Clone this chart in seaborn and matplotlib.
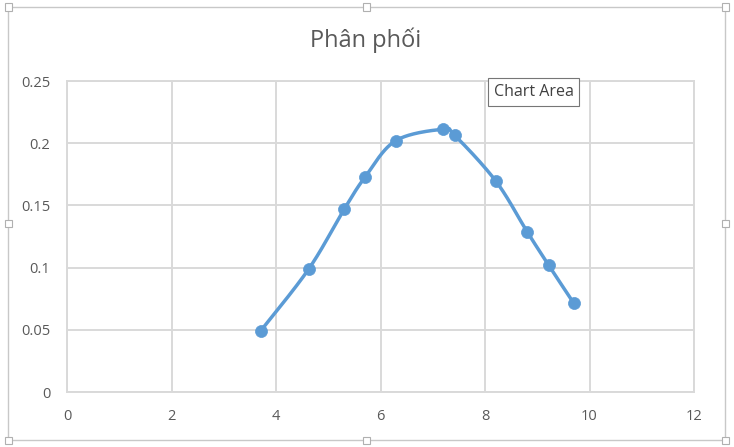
import numpy as np
import pandas as pd
import matplotlib
matplotlib.use("Agg")
import matplotlib.pyplot as plt
from matplotlib.patches import Rectangle
import seaborn as sns

# ---- data ----
x_vals = [3.71, 4.63, 5.31, 5.71, 6.29, 7.20, 7.42, 8.21, 8.81, 9.22, 9.70]
y_vals = [0.0493, 0.0991, 0.1473, 0.1731, 0.2020, 0.2112, 0.2063, 0.1694, 0.1286, 0.1018, 0.0713]
title = "Phân phối"
x_ticks = [0, 2, 4, 6, 8, 10, 12]
y_ticks = [0, 0.05, 0.1, 0.15, 0.2, 0.25]
y_tick_labels = ["0", "0.05", "0.1", "0.15", "0.2", "0.25"]

# Excel-style smoothed line (cubic Bezier, tension 1/6)
def excel_smooth(xs, ys, n=40):
    P = np.column_stack([xs, ys]).astype(float)
    m = len(P)
    out = []
    for i in range(m - 1):
        p0 = P[i - 1] if i > 0 else P[i]
        p1 = P[i]
        p2 = P[i + 1]
        p3 = P[i + 2] if i + 2 < m else P[i + 1]
        c1 = p1 + (p2 - p0) / 6.0
        c2 = p2 - (p3 - p1) / 6.0
        t = np.linspace(0, 1, n, endpoint=(i == m - 2))[:, None]
        seg = ((1 - t) ** 3) * p1 + 3 * ((1 - t) ** 2) * t * c1 + 3 * (1 - t) * t ** 2 * c2 + t ** 3 * p2
        out.append(seg)
    return np.vstack(out)

curve = excel_smooth(x_vals, y_vals)
df_curve = pd.DataFrame({"x": curve[:, 0], "y": curve[:, 1], "i": np.arange(len(curve))})
df_pts = pd.DataFrame({"x": x_vals, "y": y_vals})

sns.set_theme(style="white")
plt.rcParams["font.family"] = ["Open Sans", "DejaVu Sans"]

blue = "#5B9BD5"
grid_c = "#D9D9D9"
text_c = "#595959"

fig = plt.figure(figsize=(7.34, 4.47), dpi=100)
fig.patch.set_facecolor("white")
ax = fig.add_axes([67 / 734, 1 - 392 / 447, (694 - 67) / 734, (392 - 81) / 447])

sns.lineplot(data=df_curve, x="x", y="y", sort=False, estimator=None, ax=ax,
             color=blue, linewidth=2.5, zorder=3)
sns.scatterplot(data=df_pts, x="x", y="y", ax=ax, color=blue, s=75,
                edgecolor=blue, linewidth=0.5, zorder=4)

ax.set_xlim(0, 12)
ax.set_ylim(0, 0.25)
ax.set_xticks(x_ticks)
ax.set_yticks(y_ticks)
ax.set_yticklabels(y_tick_labels)
ax.set_xlabel("")
ax.set_ylabel("")
ax.grid(True, color=grid_c, linewidth=1.4)
ax.set_axisbelow(True)
for s in ax.spines.values():
    s.set_visible(True)
    s.set_color(grid_c)
    s.set_linewidth(1.4)
ax.tick_params(axis="both", length=0, labelsize=10.5, colors=text_c)
ax.tick_params(axis="x", pad=12)
ax.tick_params(axis="y", pad=12)
for lab in ax.get_yticklabels():
    lab.set_horizontalalignment("right")

fig.text(366 / 734, 1 - 40 / 447, title, ha="center", va="center",
         fontsize=17, color=text_c)

# Chart Area tooltip
fig.text(494 / 734, 1 - 92 / 447, "Chart Area", ha="left", va="center",
         fontsize=11.5, color="#404040",
         bbox=dict(boxstyle="square,pad=0.35", facecolor="white", edgecolor="#767676", linewidth=0.8))

# chart area border and selection handles
W, H = 734, 447
l, r, t, b = 8, 725, 7, 440
fig.patches.append(Rectangle((l / W, 1 - b / H), (r - l) / W, (b - t) / H,
                             transform=fig.transFigure, fill=False,
                             edgecolor="#C8C8C8", linewidth=1.0, zorder=0))
hs = 7
for hx in [l, (l + r) / 2, r]:
    for hy in [t, (t + b) / 2, b]:
        if hx == (l + r) / 2 and hy == (t + b) / 2:
            continue
        fig.patches.append(Rectangle(((hx - hs / 2) / W, 1 - (hy + hs / 2) / H), hs / W, hs / H,
                                     transform=fig.transFigure, facecolor="white",
                                     edgecolor="#B0B0B0", linewidth=0.8, zorder=5))

fig.savefig("out.png", dpi=100)
